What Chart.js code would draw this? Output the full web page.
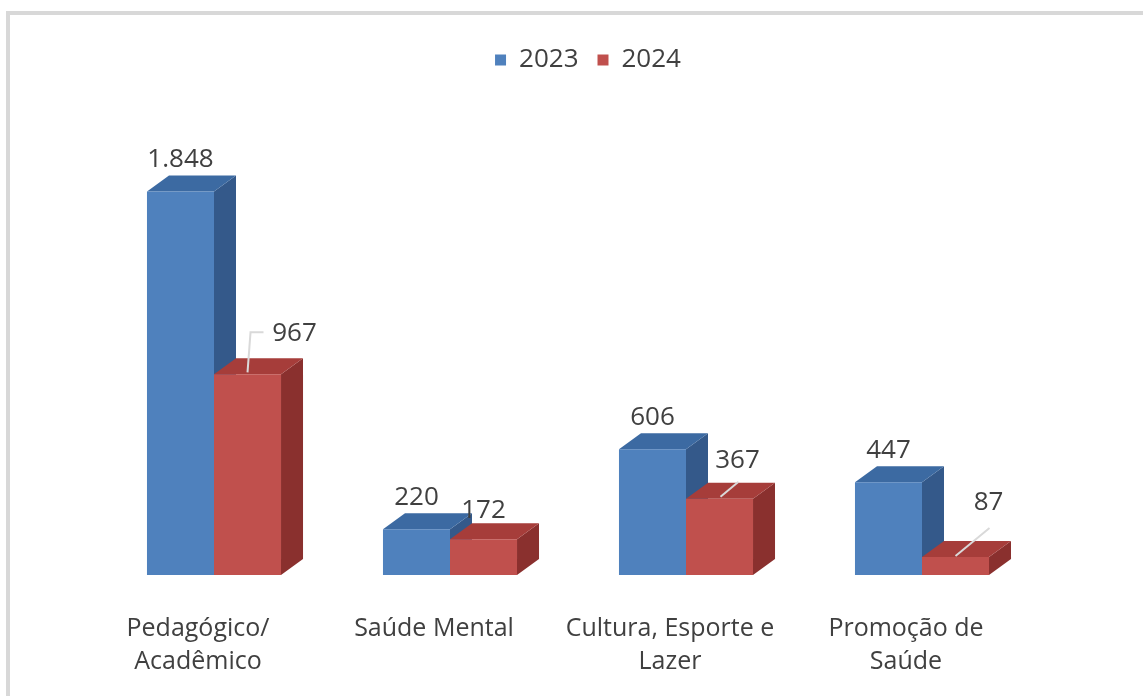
<!DOCTYPE html>
<html>
<head>
<meta charset="utf-8">
<script src="https://cdn.jsdelivr.net/npm/chart.js@4"></script>
<style>
  html, body { margin: 0; padding: 0; background: #fff; overflow: hidden; }
  #frame { position: absolute; left: 6px; top: 11px; width: 1300px; height: 800px;
           border-left: 4px solid #d8d8d8; border-top: 4px solid #d8d8d8; }
  #wrap { position: absolute; left: 0; top: 0; width: 1143px; height: 696px; }
</style>
</head>
<body>
<div id="frame"></div>
<div id="wrap"><canvas id="chart"></canvas></div>
<script>
const categories = [['Pedagógico/', 'Acadêmico'], ['Saúde Mental'], ['Cultura, Esporte e', 'Lazer'], ['Promoção de', 'Saúde']];
const years = ['2023', '2024'];
const values2023 = [1848, 220, 606, 447];
const values2024 = [967, 172, 367, 87];

const FONT = 'Open Sans';
const TEXT = '#404040';
const depth = { x: 22, y: 16 };
const fronts = ['#4f81bd', '#c0504d'];
const sides = ['#34598a', '#8a302e'];
const tops = ['#3c6aa2', '#a63d3a'];

// label placement relative to the top centre of each front face
const labelShift = [
    [[0, -32], [0, -32], [0, -32], [0, -32]],
    [[47, -41], [0, -29], [18, -38], [33, -54]]
];
const leaders = [
    [null, null, null, null],
    [[[0, -2], [3, -42], [16, -42]], null, [[1, -2], [19, -17]], [[0, -1], [34, -29]]]
];

const fmt = v => v.toLocaleString('pt-BR');

const bar3d = {
    id: 'bar3d',
    afterLayout(chart) {
        // legend sits a little right of the plot centre in the original
        chart.legend.left += 20;
        chart.legend.right += 20;
    },
    beforeDatasetsDraw(chart) {
        const ctx = chart.ctx;
        ctx.save();
        categories.forEach((c, j) => {
            chart.data.datasets.forEach((ds, i) => {
                const bar = chart.getDatasetMeta(i).data[j];
                const { x, y, base, width } = bar.getProps(['x', 'y', 'base', 'width'], true);
                const r = x + width / 2, l = x - width / 2;
                ctx.fillStyle = sides[i];
                ctx.beginPath();
                ctx.moveTo(r, y); ctx.lineTo(r + depth.x, y - depth.y);
                ctx.lineTo(r + depth.x, base - depth.y); ctx.lineTo(r, base);
                ctx.closePath(); ctx.fill();
                ctx.fillStyle = tops[i];
                ctx.beginPath();
                ctx.moveTo(l, y); ctx.lineTo(l + depth.x, y - depth.y);
                ctx.lineTo(r + depth.x, y - depth.y); ctx.lineTo(r, y);
                ctx.closePath(); ctx.fill();
            });
        });
        ctx.restore();
    },
    afterDatasetsDraw(chart) {
        const ctx = chart.ctx;
        ctx.save();
        ctx.font = `26px "${FONT}"`;
        ctx.fillStyle = TEXT;
        ctx.textAlign = 'center';
        ctx.textBaseline = 'middle';
        chart.data.datasets.forEach((ds, i) => {
            chart.getDatasetMeta(i).data.forEach((bar, j) => {
                const { x, y } = bar.getProps(['x', 'y'], true);
                const lead = leaders[i][j];
                if (lead) {
                    ctx.strokeStyle = '#d9d9d9';
                    ctx.lineWidth = 2;
                    ctx.beginPath();
                    lead.forEach(([dx, dy], k) => k ? ctx.lineTo(x + dx, y + dy) : ctx.moveTo(x + dx, y + dy));
                    ctx.stroke();
                }
                const [sx, sy] = labelShift[i][j];
                ctx.fillText(fmt(ds.data[j]), x + sx, y + sy);
            });
        });
        ctx.restore();
    }
};

new Chart(document.getElementById('chart').getContext('2d'), {
    type: 'bar',
    data: {
        labels: categories,
        datasets: [
            { label: years[0], data: values2023, backgroundColor: fronts[0], borderWidth: 0 },
            { label: years[1], data: values2024, backgroundColor: fronts[1], borderWidth: 0 }
        ]
    },
    options: {
        responsive: true, maintainAspectRatio: false, animation: false,
        layout: { padding: { top: 28, left: 96, right: 103, bottom: 0 } },
        datasets: { bar: { barPercentage: 1, categoryPercentage: 0.568 } },
        plugins: {
            legend: {
                position: 'top',
                labels: { boxWidth: 11, boxHeight: 11, padding: 19, color: TEXT, font: { family: FONT, size: 26 } }
            },
            tooltip: { enabled: false }
        },
        scales: {
            x: {
                grid: { display: false, drawTicks: false },
                border: { display: false },
                ticks: { color: TEXT, font: { family: FONT, size: 25, lineHeight: 1.3 }, padding: 38, labelOffset: -16, maxRotation: 0, autoSkip: false },
                afterFit: s => { s.height = 121; }
            },
            y: { display: false, min: 0, max: 2371 }
        }
    },
    plugins: [bar3d]
});
</script>
</body>
</html>
